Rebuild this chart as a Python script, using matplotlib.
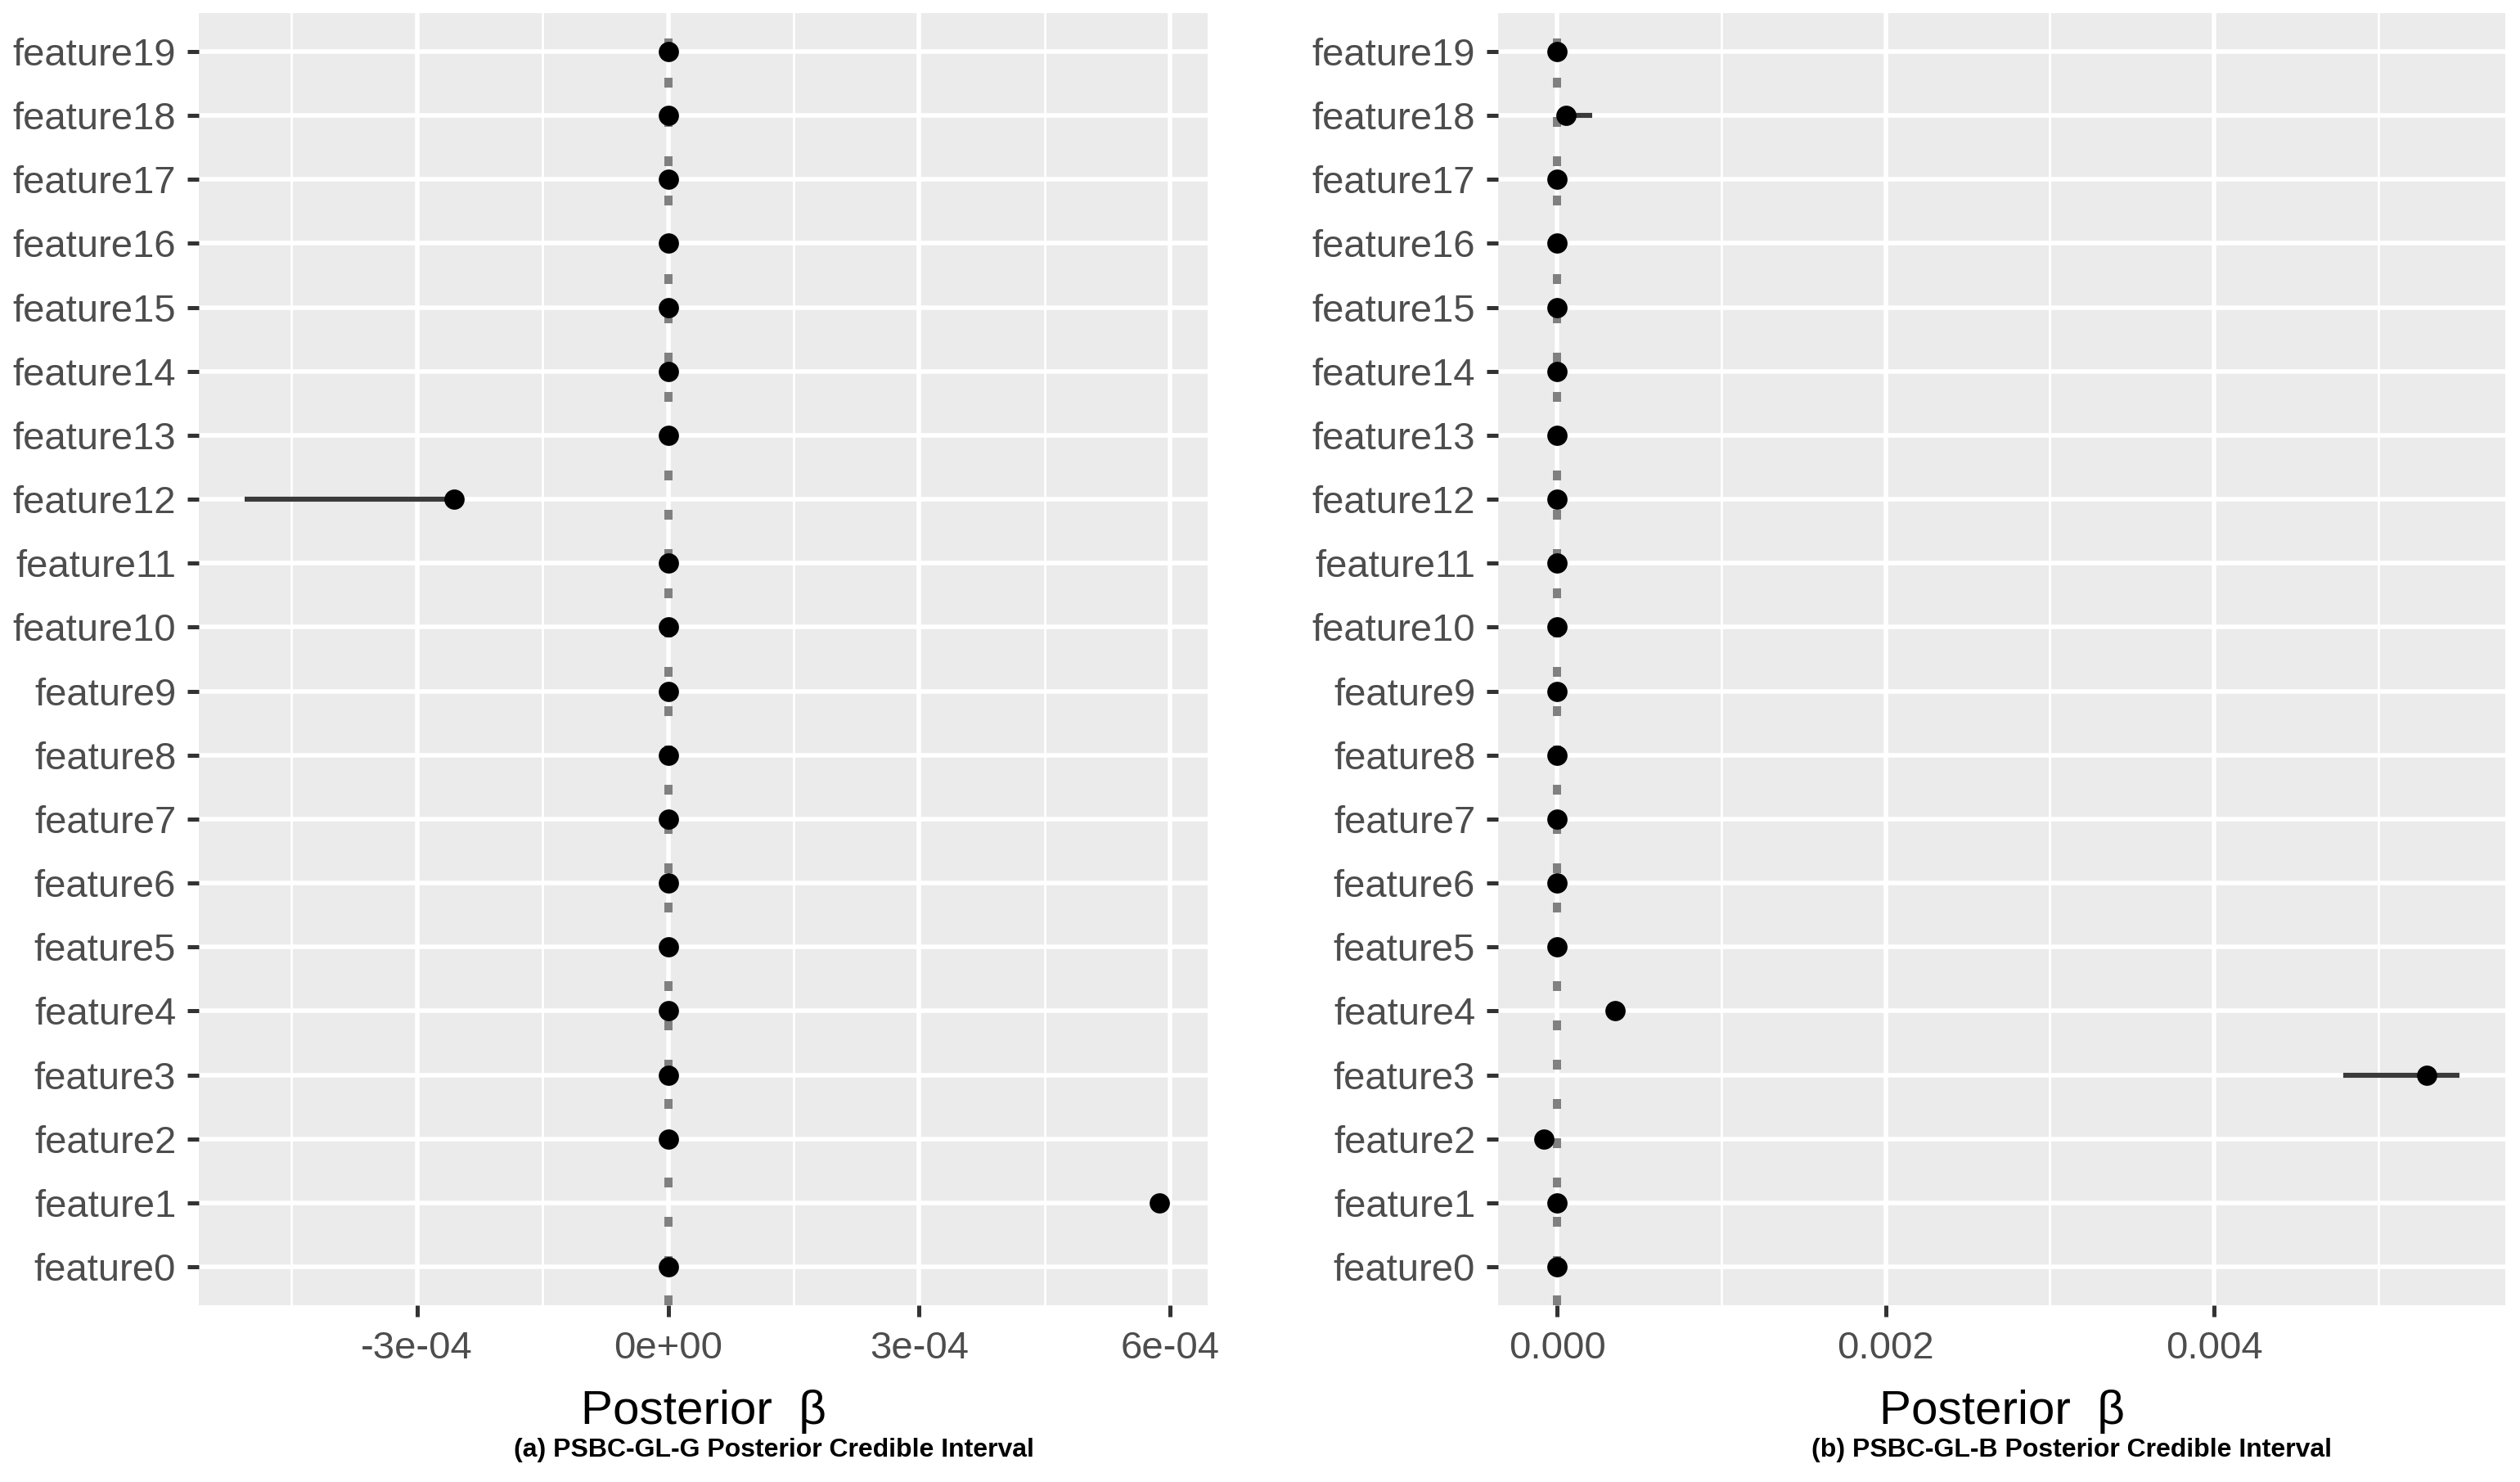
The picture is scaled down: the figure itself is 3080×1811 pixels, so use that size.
import matplotlib.pyplot as plt
from matplotlib.ticker import FixedLocator

plt.rcParams['font.family'] = ['Liberation Sans', 'DejaVu Sans']

features = [f'feature{i}' for i in range(20)]

# (a) PSBC-GL-G
g_mean = [0, 5.87e-4, 0, 0, 0, 0, 0, 0, 0, 0,
          0, 0, -2.56e-4, 0, 0, 0, 0, 0, 0, 0]
g_low = [0, 5.85e-4, 0, 0, 0, 0, 0, 0, 0, 0,
         0, 0, -5.06e-4, 0, 0, 0, 0, 0, 0, 0]
g_high = [0, 5.90e-4, 0, 0, 0, 0, 0, 0, 0, 0,
          0, 0, -2.48e-4, 0, 0, 0, 0, 0, 0, 0]

# (b) PSBC-GL-B
b_mean = [0, 0, -0.08e-3, 5.294e-3, 0.353e-3, 0, 0, 0, 0, 0,
          0, 0, 0, 0, 0, 0, 0, 0, 0.055e-3, 0]
b_low = [0, 0, -0.08e-3, 4.786e-3, 0.35e-3, 0, 0, 0, 0, 0,
         0, 0, 0, 0, 0, 0, 0, 0, 0.0, 0]
b_high = [0, 0, -0.08e-3, 5.493e-3, 0.356e-3, 0, 0, 0, 0, 0,
          0, 0, 0, 0, 0, 0, 0, 0, 0.214e-3, 0]

g_ticks = [-3e-4, 0, 3e-4, 6e-4]
g_ticklabels = ['-3e-04', '0e+00', '3e-04', '6e-04']
g_minor = [-4.5e-4, -1.5e-4, 1.5e-4, 4.5e-4]
b_ticks = [0, 0.002, 0.004]
b_ticklabels = ['0.000', '0.002', '0.004']
b_minor = [0.001, 0.003, 0.005]

captions = ['(a) PSBC-GL-G Posterior Credible Interval',
            '(b) PSBC-GL-B Posterior Credible Interval']

W, H = 3080, 1811
fig = plt.figure(figsize=(W / 200, H / 200), dpi=200)

ax_boxes = [(243, 1476), (1831, 3062)]
top, bottom = 16, 1595

panels = [(g_mean, g_low, g_high, g_ticks, g_ticklabels, g_minor),
          (b_mean, b_low, b_high, b_ticks, b_ticklabels, b_minor)]

for (x0, x1), (mean, low, high, ticks, tlabels, minor), cap in zip(ax_boxes, panels, captions):
    ax = fig.add_axes([x0 / W, 1 - bottom / H, (x1 - x0) / W, (bottom - top) / H])
    ax.set_facecolor('#EBEBEB')
    for s in ax.spines.values():
        s.set_visible(False)
    y = list(range(len(features)))
    lo_all = min(low + mean)
    hi_all = max(high + mean)
    pad = 0.05 * (hi_all - lo_all)
    ax.set_xlim(lo_all - pad, hi_all + pad)
    ax.set_ylim(-0.6, len(features) - 0.4)

    ax.xaxis.set_major_locator(FixedLocator(ticks))
    ax.set_xticklabels(tlabels)
    ax.xaxis.set_minor_locator(FixedLocator(minor))
    ax.set_yticks(y)
    ax.set_yticklabels(features)
    ax.grid(which='major', color='white', linewidth=2.0)
    ax.grid(which='minor', axis='x', color='white', linewidth=1.0)
    ax.set_axisbelow(True)
    ax.tick_params(axis='both', which='major', length=5, width=1.8, color='#333333',
                   labelsize=17, labelcolor='#4D4D4D', pad=5)
    ax.tick_params(axis='x', which='major', pad=6)
    ax.tick_params(which='minor', length=0)

    ax.axvline(0, color='#808080', linewidth=3.6, linestyle=(0, (1.2, 3.6)),
               dash_capstyle='butt', zorder=2)
    ax.hlines(y, low, high, color='#3A3A3A', linewidth=2.2, zorder=3)
    ax.plot(mean, y, 'o', color='black', markersize=7.9, zorder=4)

    cx = (x0 + x1) / 2
    fig.text(cx / W, 1 - 1725 / H, 'Posterior  β', ha='center', va='center',
             fontsize=21, color='black')
    fig.text((cx + 86) / W, 1 - 1772 / H, cap, ha='center', va='center',
             fontsize=11.5, fontweight='bold', color='black')

fig.savefig('out.png', dpi=200)
